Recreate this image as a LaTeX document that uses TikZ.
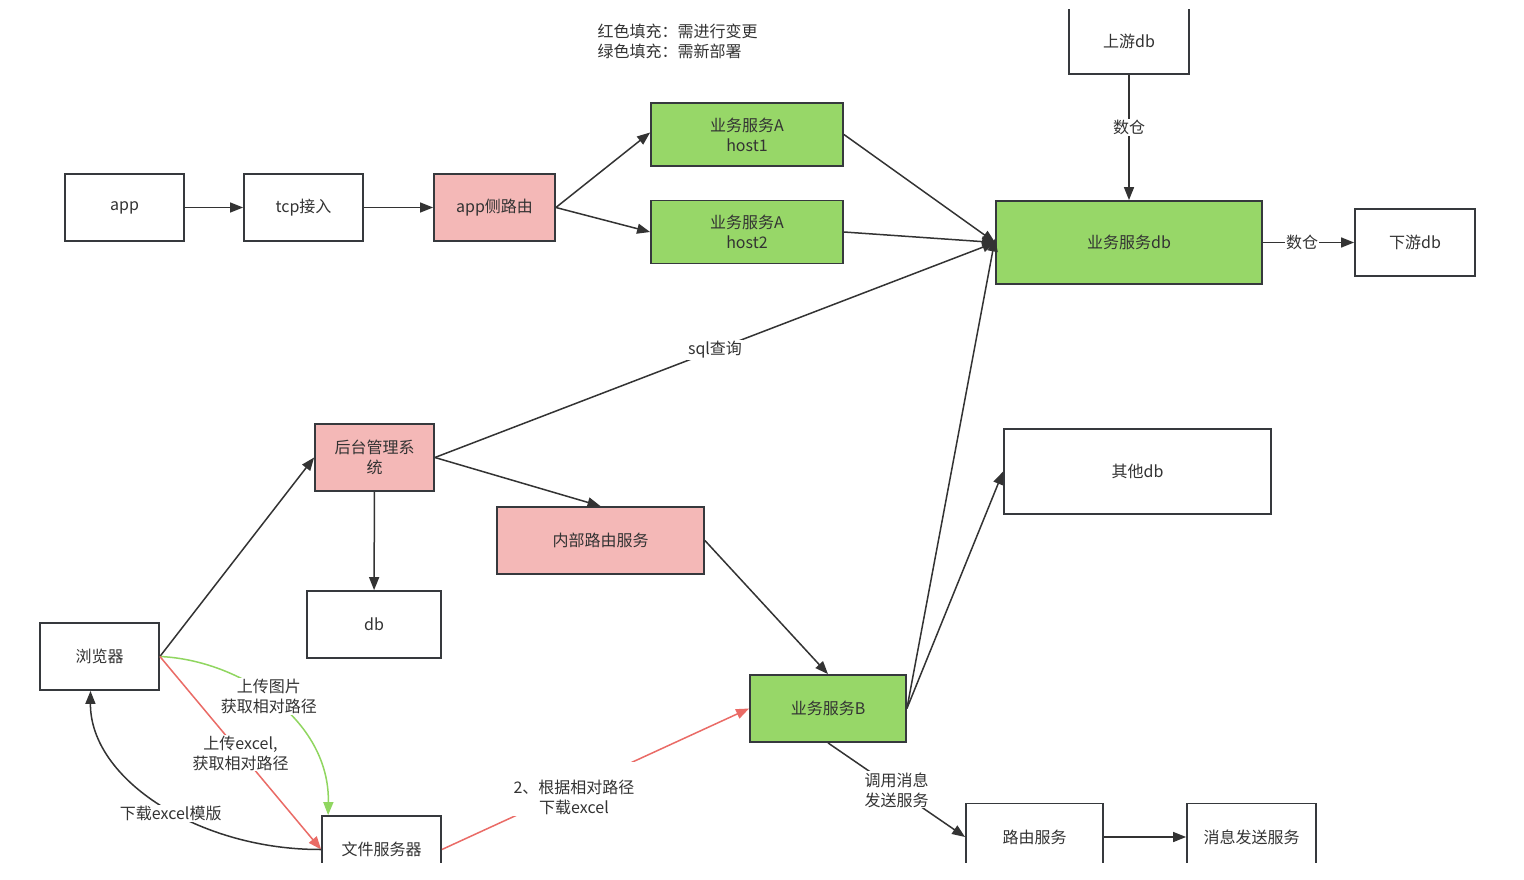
\documentclass[tikz,border=0pt]{standalone}
\usepackage{fontspec}
\setmainfont{Noto Sans CJK SC}
\usetikzlibrary{arrows.meta}

\definecolor{rosa}{RGB}{244,184,183}
\definecolor{verde}{RGB}{151,215,104}
\definecolor{bordo}{RGB}{54,57,61}
\definecolor{linea}{RGB}{51,51,51}
\definecolor{rosso}{RGB}{234,107,102}
\definecolor{verdelinea}{RGB}{144,214,96}
\definecolor{testo}{RGB}{51,51,51}

\begin{document}
\begin{tikzpicture}[x=1pt, y=-1pt, >={Triangle[length=13pt,width=10pt]},
  font=\fontsize{16}{20}\selectfont,
  box/.style={draw=bordo, line width=1.8pt, fill=white, text=testo, align=center,
    inner sep=0pt, minimum width=#1, minimum height=67pt},
  freccia/.style={->, draw=linea, line width=1.5pt},
  etichetta/.style={fill=white, text=testo, inner sep=1pt, align=center}]

\useasboundingbox (0,0) rectangle (1524,880);
\fill[white] (0,0) rectangle (1524,880);

\begin{scope}
\clip (0,10) rectangle (1524,862);

% Legenda
\node[anchor=west, align=left, text=testo] (legenda) at (594,41)
  {红色填充：需进行变更\\绿色填充：需新部署};

% Catena app
\node[box=119pt] (app) at (124.5,207.5) {app};
\node[box=119pt] (tcp) at (303.5,207.5) {tcp接入};
\node[box=121pt, fill=rosa] (approute) at (494.5,207.5) {app侧路由};
\node[box=192pt, fill=verde, minimum height=63pt] (hostA1) at (747,134.5) {业务服务A\\host1};
\node[box=192pt, fill=verde, minimum height=63pt] (hostA2) at (747,232) {业务服务A\\host2};

% Database
\node[box=266pt, fill=verde, minimum height=83pt] (servdb) at (1129,242.5) {业务服务db};
\node[box=120pt, minimum height=66pt] (updb) at (1129,41) {上游db};
\node[box=120pt] (downdb) at (1415,242.5) {下游db};
\node[box=267pt, minimum height=85pt] (otherdb) at (1137.5,471.5) {其他db};

% Gestione
\node[box=119pt, fill=rosa] (admin) at (374.5,457.5) {后台管理系\\统};
\node[box=207pt, fill=rosa] (innerroute) at (600.5,540.5) {内部路由服务};
\node[box=134pt] (db) at (374,624.5) {db};
\node[box=119pt] (browser) at (99.5,656.5) {浏览器};
\node[box=119pt] (files) at (381.5,849.5) {文件服务器};
\node[box=156pt, fill=verde] (servB) at (828,708.5) {业务服务B};
\node[box=137pt] (route) at (1034.5,837) {路由服务};
\node[box=129pt] (msgsend) at (1251.5,837) {消息发送服务};

% Frecce in alto
\draw[freccia] (app) -- (tcp);
\draw[freccia] (tcp) -- (approute);
\draw[freccia] (approute.east) -- ([yshift=2pt]hostA1.west);
\draw[freccia] (approute.east) -- (hostA2.west);
\draw[freccia] (hostA1.east) -- (servdb.west);
\draw[freccia] (hostA2.east) -- (servdb.west);
\draw[freccia] (updb) -- node[etichetta, pos=0.42] {数仓} (servdb);
\draw[freccia] (servdb) -- node[etichetta, pos=0.43] {数仓} (downdb);

% Frecce centrali
\draw[freccia] (admin.east) -- node[etichetta] {sql查询} (servdb.west);
\draw[freccia] (admin.east) -- (innerroute.north);
\draw[freccia] (admin) -- (db);
\draw[freccia] (innerroute.east) -- (servB.north);
\draw[freccia] (browser.east) -- (admin.west);
\draw[freccia] (servB.east) -- ([yshift=4pt]servdb.west);
\draw[freccia] (servB.east) -- (otherdb.west);

% Frecce in basso
\draw[->, draw=verdelinea, line width=1.5pt] (browser.east)
  .. controls (240,660) and (330,720) .. node[etichetta, pos=0.47] {上传图片\\获取相对路径}
  ([xshift=7pt]files.north west);
\draw[->, draw=rosso, line width=1.5pt] (browser.east)
  -- node[etichetta] {上传excel,\\获取相对路径} (files.west);
\draw[freccia] (files.west)
  .. controls (200,850) and (90,780) .. node[etichetta, pos=0.46, yshift=-3pt] {下载excel模版}
  ([xshift=-9pt]browser.south);
\draw[->, draw=rosso, line width=1.5pt] (files.east)
  -- node[etichetta, pos=0.43] {\rule{0pt}{30pt}2、根据相对路径\\下载excel} (servB.west);
\draw[freccia] (servB.south) -- node[etichetta] {调用消息\\发送服务} (route.west);
\draw[freccia] (route) -- (msgsend);

\end{scope}

\end{tikzpicture}
\end{document}
